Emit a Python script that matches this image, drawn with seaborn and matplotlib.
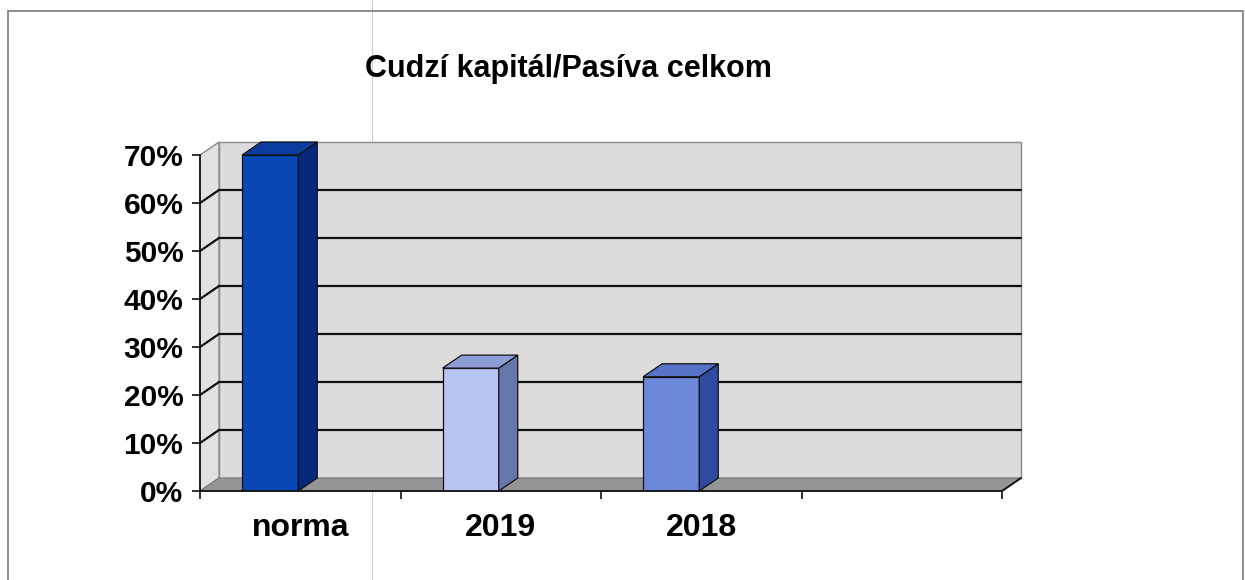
import matplotlib
matplotlib.use("Agg")
import matplotlib.pyplot as plt
import seaborn as sns
import pandas as pd
from matplotlib.patches import Polygon, Rectangle
from matplotlib.lines import Line2D

# ---- data ----
categories = ["norma", "2019", "2018"]
values = [0.70, 0.256, 0.238]
y_ticks = [0.0, 0.1, 0.2, 0.3, 0.4, 0.5, 0.6, 0.7]
y_tick_labels = ["0%", "10%", "20%", "30%", "40%", "50%", "60%", "70%"]
title = "Cudzí kapitál/Pasíva celkom"

front_colors = ["#0a47b6", "#b8c5f2", "#6c87da"]
side_colors = ["#05287a", "#6676aa", "#2f4b9f"]
top_colors = ["#0b3c9f", "#8d9dd7", "#5672c6"]

sns.set_theme(style="white")
plt.rcParams["font.family"] = ["Liberation Sans", "DejaVu Sans"]
plt.rcParams["font.weight"] = "bold"
plt.rcParams["text.color"] = "black"
plt.rcParams["xtick.color"] = "black"
plt.rcParams["ytick.color"] = "black"

W, H, DPI = 1245, 580, 100
fig = plt.figure(figsize=(W / DPI, H / DPI), dpi=DPI)
fig.patch.set_facecolor("white")

# axes = front plane of the 3-D box
L, R, B, T = 200, 1002, 491, 155
ax = fig.add_axes([L / W, 1 - B / H, (R - L) / W, (B - T) / H])
ax.set_facecolor("none")

df = pd.DataFrame({"cat": categories, "val": values})
sns.barplot(data=df, x="cat", y="val", hue="cat", order=categories,
            palette=front_colors, saturation=1, legend=False, width=0.28,
            edgecolor="#111111", linewidth=0.9, ax=ax, zorder=5)
bars = list(ax.patches)

XMIN, XMAX = -0.35, 3.65
LABEL_SHIFT = 0.15
ax.set_xlim(XMIN, XMAX)
ax.set_ylim(0, 0.7)

# depth in data units (pixel offsets converted)
DXP, DYP = 19, 13
dx = DXP / (R - L) * (XMAX - XMIN)
dy = DYP / (B - T) * 0.7

wall_c = "#dedbdc"
side_c = "#e3e0e1"
floor_c = "#959595"

# back wall
ax.add_patch(Rectangle((XMIN + dx, dy), XMAX - XMIN, 0.7, facecolor=wall_c,
                       edgecolor="#8a8a8a", linewidth=1.0, zorder=0, clip_on=False))
# side wall
ax.add_patch(Polygon([(XMIN, 0), (XMIN + dx, dy), (XMIN + dx, 0.7 + dy), (XMIN, 0.7)],
                     closed=True, facecolor=side_c, edgecolor="#8a8a8a",
                     linewidth=1.0, zorder=0.5, clip_on=False))
# floor
ax.add_patch(Polygon([(XMIN, 0), (XMAX, 0), (XMAX + dx, dy), (XMIN + dx, dy)],
                     closed=True, facecolor=floor_c, edgecolor="#777777",
                     linewidth=0.8, zorder=1, clip_on=False))

# gridlines on back wall and side wall
for yv in y_ticks[1:-1]:
    ax.add_line(Line2D([XMIN + dx, XMAX + dx], [yv + dy, yv + dy], color="#111111",
                       linewidth=1.6, zorder=1, clip_on=False))
    ax.add_line(Line2D([XMIN, XMIN + dx], [yv, yv + dy], color="#111111",
                       linewidth=1.6, zorder=1, clip_on=False))

# floor right diagonal edge
ax.add_line(Line2D([XMAX, XMAX + dx], [0, dy], color="#111111", linewidth=1.4,
                   zorder=2, clip_on=False))

# 3-D faces for bars
for i, p in enumerate(bars):
    x0 = p.get_x()
    w = p.get_width()
    h = p.get_height()
    ax.add_patch(Polygon([(x0 + w, 0), (x0 + w + dx, dy), (x0 + w + dx, h + dy), (x0 + w, h)],
                         closed=True, facecolor=side_colors[i], edgecolor="#111111",
                         linewidth=0.9, zorder=6, clip_on=False))
    ax.add_patch(Polygon([(x0, h), (x0 + w, h), (x0 + w + dx, h + dy), (x0 + dx, h + dy)],
                         closed=True, facecolor=top_colors[i], edgecolor="#111111",
                         linewidth=0.9, zorder=6, clip_on=False))

# axes styling
for s in ["top", "right"]:
    ax.spines[s].set_visible(False)
for s in ["left", "bottom"]:
    ax.spines[s].set_visible(True)
    ax.spines[s].set_color("#111111")
    ax.spines[s].set_linewidth(1.3)
    ax.spines[s].set_zorder(7)

ax.set_yticks(y_ticks)
ax.set_yticklabels(y_tick_labels, fontsize=21.5, fontweight="bold", color="black")
ax.set_xticks([k + LABEL_SHIFT for k in range(len(categories))])
ax.set_xticklabels(categories, fontsize=23, fontweight="bold", color="black")
ax.set_xticks([XMIN + k for k in range(5)], minor=True)
ax.tick_params(axis="y", which="major", direction="out", length=6, width=1.2,
               color="#111111", pad=6, left=True)
ax.tick_params(axis="x", which="major", length=0, pad=16)
ax.tick_params(axis="x", which="minor", direction="out", length=6, width=1.2,
               color="#111111", bottom=True)
ax.set_xlabel("")
ax.set_ylabel("")

fig.text(568 / W, 1 - 69 / H, title, ha="center", va="center",
         fontsize=22, fontweight="bold", color="black")

# outer chart border
fig.add_artist(Rectangle((8 / W, -0.05), (1243 - 8) / W, (H - 11) / H + 0.05,
                         transform=fig.transFigure, facecolor="none",
                         edgecolor="#7a7a7a", linewidth=1.2, zorder=-1))
# faint scan fold line
fig.add_artist(Line2D([372 / W, 372 / W], [0, 1], transform=fig.transFigure,
                      color="#cfcfcf", linewidth=0.8, zorder=-2))

fig.savefig("out.png", dpi=DPI)
